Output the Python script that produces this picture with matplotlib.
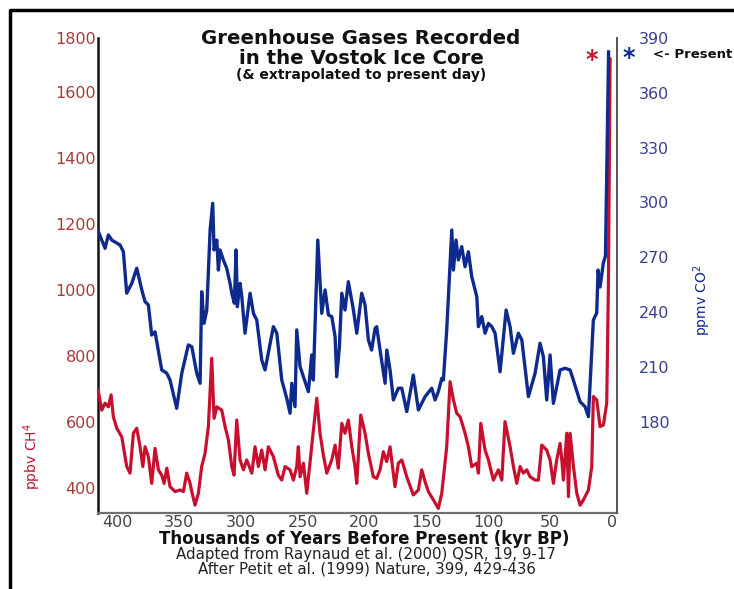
import matplotlib
matplotlib.use("Agg")
import matplotlib.pyplot as plt
from matplotlib.lines import Line2D

# ---------------- data ----------------
co2_kyr = [415.1, 409.7, 407.0, 404.3, 397.6, 394.9, 392.2, 388.1, 384.1, 380.0,
           377.4, 374.7, 372.0, 369.3, 363.9, 359.8, 357.2, 351.8, 347.7, 342.4,
           339.6, 335.6, 332.9, 331.6, 329.7, 327.5, 324.8, 322.7, 321.6, 319.4,
           318.1, 316.8, 314.1, 311.4, 308.7, 307.3, 305.2, 303.8, 302.8, 300.6,
           299.2, 296.6, 292.5, 289.8, 287.1, 283.1, 280.4, 273.7, 270.9, 266.9,
           262.9, 260.2, 258.8, 256.2, 254.8, 252.1, 249.4, 245.4, 242.7, 241.4,
           237.8, 234.6, 231.9, 229.2, 226.5, 223.8, 222.5, 220.4, 218.4, 215.8,
           213.1, 209.0, 206.3, 202.3, 199.6, 196.9, 194.3, 191.5, 190.2, 187.5,
           183.4, 182.0, 179.4, 176.7, 172.7, 169.9, 165.9, 160.6, 156.5, 151.1,
           145.7, 143.0, 140.4, 137.6, 136.3, 133.6, 129.5, 128.2, 126.1, 124.2,
           121.5, 118.8, 116.1, 113.4, 109.3, 108.0, 105.3, 102.6, 99.9, 97.2,
           94.5, 90.5, 85.6, 82.4, 79.7, 75.7, 72.9, 67.6, 62.2, 58.2,
           55.5, 52.8, 50.1, 47.4, 42.0, 38.0, 33.9, 31.3, 25.8, 21.8,
           19.1, 15.1, 12.4, 11.3, 9.7, 7.0, 5.3, 2.8]
co2_ppmv = [284.0, 274.9, 282.2, 279.4, 276.7, 273.0, 250.3, 255.7, 264.0, 252.1,
            245.7, 243.9, 227.4, 229.2, 208.3, 206.5, 202.8, 187.3, 206.5, 222.0,
            221.0, 206.5, 201.0, 251.1, 233.8, 241.1, 284.9, 299.5, 274.0, 279.4,
            263.0, 274.0, 268.5, 264.0, 255.7, 250.3, 244.8, 274.0, 242.9, 255.7,
            248.4, 228.4, 250.3, 239.3, 235.6, 213.8, 208.3, 232.0, 228.4, 202.8,
            192.8, 184.6, 201.0, 188.2, 230.2, 210.1, 204.6, 196.4, 216.5, 202.8,
            279.4, 239.3, 252.1, 238.4, 237.5, 226.5, 204.6, 220.2, 250.3, 241.1,
            256.6, 241.1, 228.4, 250.3, 243.9, 224.7, 219.2, 231.1, 232.0, 219.2,
            201.0, 219.2, 208.3, 191.9, 198.3, 198.3, 185.5, 205.5, 186.4, 193.7,
            198.3, 191.9, 196.4, 203.7, 202.8, 230.2, 284.9, 263.0, 279.4, 268.5,
            275.8, 264.8, 273.0, 259.4, 248.4, 232.0, 237.5, 228.4, 233.8, 232.0,
            228.4, 207.3, 241.1, 232.0, 217.4, 228.4, 224.7, 193.7, 206.5, 222.9,
            215.6, 191.9, 216.5, 190.0, 208.3, 209.2, 208.3, 202.8, 190.9, 188.2,
            182.7, 235.6, 239.5, 263.0, 253.7, 266.9, 270.7, 382.4]

ch4_kyr = [415.3, 412.4, 409.7, 407.0, 404.8, 403.0, 400.2, 396.2, 392.2, 389.5,
           386.8, 384.1, 381.4, 379.2, 377.4, 374.7, 372.0, 369.3, 366.6, 363.9,
           362.0, 359.8, 357.2, 353.1, 349.1, 346.4, 343.7, 341.0, 339.6, 337.0,
           334.3, 331.6, 328.9, 326.2, 323.5, 321.6, 319.4, 315.4, 312.7, 310.0,
           307.3, 305.5, 303.3, 300.6, 297.9, 295.2, 291.1, 288.5, 285.8, 283.1,
           280.4, 277.7, 273.7, 269.7, 266.9, 264.2, 260.2, 257.5, 254.8, 253.5,
           252.1, 249.4, 246.7, 242.7, 238.6, 236.0, 233.3, 230.5, 226.5, 223.8,
           221.2, 218.4, 215.8, 213.1, 210.3, 207.7, 206.3, 203.1, 199.6, 196.9,
           192.9, 190.2, 187.5, 184.8, 182.1, 179.4, 175.4, 172.7, 169.9, 165.9,
           160.6, 156.5, 153.8, 151.1, 148.4, 144.4, 140.4, 137.6, 133.6, 130.9,
           128.2, 125.5, 122.8, 118.8, 116.1, 113.4, 109.3, 108.0, 106.1, 102.6,
           99.9, 95.9, 91.9, 89.1, 86.5, 82.4, 79.7, 77.0, 74.3, 71.7,
           68.9, 66.3, 62.2, 59.5, 56.8, 52.8, 50.1, 47.4, 44.7, 42.0,
           40.6, 39.3, 36.6, 35.2, 33.9, 31.2, 28.5, 25.8, 23.1, 19.1,
           16.4, 15.1, 12.4, 9.7, 7.0, 4.3, 2.9, 1.6]
ch4_ppbv = [697, 636, 657, 646, 682, 616, 581, 555, 465, 445,
            566, 581, 525, 465, 525, 495, 414, 520, 455, 439,
            414, 460, 404, 389, 394, 389, 445, 414, 389, 348,
            384, 465, 505, 586, 793, 611, 646, 636, 586, 545,
            465, 439, 606, 485, 455, 485, 445, 525, 465, 515,
            455, 525, 495, 439, 424, 465, 455, 424, 465, 525,
            434, 475, 384, 525, 672, 566, 500, 445, 485, 530,
            460, 596, 566, 606, 525, 465, 414, 621, 566, 505,
            434, 429, 455, 510, 480, 525, 404, 475, 485, 434,
            379, 394, 455, 419, 389, 364, 338, 384, 525, 722,
            667, 626, 616, 566, 525, 465, 475, 445, 596, 515,
            485, 424, 455, 424, 601, 525, 465, 414, 465, 445,
            455, 434, 424, 424, 530, 515, 485, 414, 485, 535,
            485, 424, 566, 374, 566, 465, 384, 348, 364, 394,
            465, 677, 667, 586, 591, 657, 1030, 1700]

x_ticks = [400, 350, 300, 250, 200, 150, 100, 50, 0]
ch4_ticks = [400, 600, 800, 1000, 1200, 1400, 1600, 1800]
co2_ticks = [180, 210, 240, 270, 300, 330, 360, 390]

title_lines = ["Greenhouse Gases Recorded", "in the Vostok Ice Core",
               "(& extrapolated to present day)"]
x_label = "Thousands of Years Before Present (kyr BP)"
credits = ["Adapted from Raynaud et al. (2000) QSR, 19, 9-17",
           "After Petit et al. (1999) Nature, 399, 429-436"]

# ---------------- styling ----------------
W, H = 734, 589
RED = "#c8102e"
BLUE = "#0d2a8c"
RED_TXT = "#a83a3a"
BLUE_TXT = "#3a3f8f"
GRAY_TXT = "#444444"

plt.rcParams['font.family'] = ['DejaVu Sans']
fig = plt.figure(figsize=(W / 100, H / 100), dpi=100)
fig.patch.set_facecolor("white")

def fx(px):
    return px / W

def fy(py):
    return 1 - py / H

left, right, top, bottom = 98, 617, 38, 513
ax = fig.add_axes([fx(left), fy(bottom), fx(right) - fx(left), fy(top) - fy(bottom)])
ax2 = ax.twinx()

# left CH4 axis
ch4_lo, ch4_hi = 324.2, 1763.6
ax.set_ylim(ch4_lo, ch4_hi)
ax.set_xlim(415.4, -4.0)
ax.plot(ch4_kyr, ch4_ppbv, color=RED, lw=2.3, zorder=3)
ax.set_yticks([min(t, ch4_hi) for t in ch4_ticks])
ax.set_yticklabels([str(t) for t in ch4_ticks])
ax.set_xticks(x_ticks)
ax.set_xticklabels([str(t) for t in x_ticks])
ax.tick_params(axis='y', length=0, pad=1.5, labelsize=11.5, labelcolor=RED_TXT)
ax.tick_params(axis='x', length=0, pad=1.5, labelsize=11.5, labelcolor=GRAY_TXT)

# right CO2 axis
ax2.set_ylim(130, 390)
ax2.plot(co2_kyr, co2_ppmv, color=BLUE, lw=2.4, zorder=4)
ax2.set_yticks(co2_ticks)
ax2.set_yticklabels([str(t) for t in co2_ticks])
ax2.tick_params(axis='y', length=0, pad=16, labelsize=11.5, labelcolor=BLUE_TXT)

for a in (ax, ax2):
    for s in a.spines.values():
        s.set_visible(False)
    a.patch.set_visible(False)
ax.spines['left'].set_visible(True)
ax.spines['left'].set_color('#111111')
ax.spines['left'].set_linewidth(1.8)
ax.spines['bottom'].set_visible(True)
ax.spines['bottom'].set_color('#707070')
ax.spines['bottom'].set_linewidth(1.6)
ax2.spines['right'].set_visible(True)
ax2.spines['right'].set_color('#555555')
ax2.spines['right'].set_linewidth(1.4)

# axis titles
fig.text(fx(32), fy(457), "ppbv CH$^4$", rotation=90, color=RED, fontsize=10,
         ha='center', va='center')
fig.text(fx(702), fy(300), "ppmv CO$^2$", rotation=90, color=BLUE, fontsize=10,
         ha='center', va='center')

# titles
fig.text(fx(361), fy(39), title_lines[0], fontsize=14.2, fontweight='bold',
         ha='center', va='center', color='#111111')
fig.text(fx(361), fy(58), title_lines[1], fontsize=14.2, fontweight='bold',
         ha='center', va='center', color='#111111')
fig.text(fx(361), fy(75), title_lines[2], fontsize=10, fontweight='bold',
         ha='center', va='center', color='#111111')

fig.text(fx(364), fy(539), x_label, fontsize=12, fontweight='bold',
         ha='center', va='center', color='#111111')
fig.text(fx(366), fy(554), credits[0], fontsize=10.8, ha='center', va='center',
         color='#222222')
fig.text(fx(367), fy(569), credits[1], fontsize=10.8, ha='center', va='center',
         color='#222222')

# present markers
fig.text(fx(592), fy(60), "*", color=RED, fontsize=17, fontweight='bold',
         ha='center', va='center')
fig.text(fx(629), fy(58), "*", color=BLUE, fontsize=17, fontweight='bold',
         ha='center', va='center')
fig.text(fx(653), fy(54), "<- Present", color='#111111', fontsize=9.5,
         fontweight='bold', ha='left', va='center')

# page frame
fig.add_artist(Line2D([fx(10), fx(10), fx(734)], [fy(589), fy(10), fy(10)],
                      transform=fig.transFigure, color='black', lw=2.5))

fig.savefig("out.png", dpi=100)
